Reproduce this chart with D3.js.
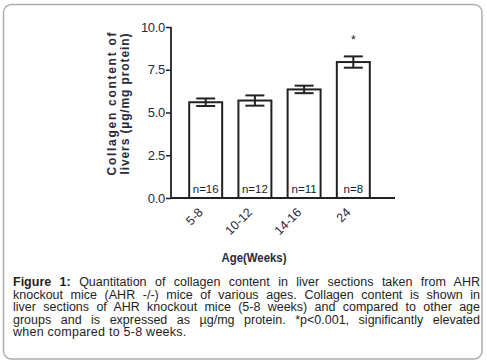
<!DOCTYPE html>
<html>
<head>
<meta charset="utf-8">
<script src="https://cdn.jsdelivr.net/npm/d3@7"></script>
<style>
  html, body { margin: 0; padding: 0; background: #fff; }
  #wrap { position: relative; width: 487px; height: 362px; overflow: hidden; }
  svg { position: absolute; left: 0; top: 0; }
  #caption {
    position: absolute; left: 13px; top: 276px; width: 467px;
    font-family: "Liberation Sans", Arial, sans-serif; font-size: 12.5px;
    line-height: 12.5px; color: #1e1e1e;
  }
  #caption .ln { text-align: justify; text-align-last: justify; white-space: nowrap; height: 12.5px; }
  #caption .ln.last { text-align-last: left; letter-spacing: 0.25px; }
</style>
</head>
<body>
<div id="wrap">
  <svg id="chart" width="487" height="362"></svg>
  <div id="caption"></div>
</div>
<script>
// ---- data ----
const categories = ["5-8", "10-12", "14-16", "24"];
const means = [5.6, 5.7, 6.35, 7.95];
const sems = [0.22, 0.3, 0.22, 0.33];
const nLabels = ["n=16", "n=12", "n=11", "n=8"];
const significance = ["", "", "", "*"];
const yTicks = [0, 2.5, 5, 7.5, 10];
const yTitleLines = ["Collagen content of", "livers (\u00b5g/mg protein)"];
const xTitle = "Age(Weeks)";
const captionLines = [
  [["Figure 1:", true], [" Quantitation of collagen content in liver sections taken from AHR", false]],
  [["knockout mice (AHR -/-) mice of various ages. Collagen content is shown in", false]],
  [["liver sections of AHR knockout mice (5-8 weeks) and compared to other age", false]],
  [["groups and is expressed as \u00b5g/mg protein. *p<0.001, significantly elevated", false]],
  [["when compared to 5-8 weeks.", false]]
];

// ---- layout ----
const axisX = 171, axisY = 198, axisTop = 27, axisRight = 395;
const ink = "#222";
const font = "'Liberation Sans', Arial, sans-serif";

const svg = d3.select("#chart");

// frame
svg.append("rect")
  .attr("x", 3.5).attr("y", 4.5).attr("width", 478.5).attr("height", 354.5)
  .attr("rx", 8).attr("fill", "none").attr("stroke", "#adadad").attr("stroke-width", 1.5);

const x = d3.scaleBand().domain(categories).range([axisX, 388])
  .paddingInner(0.33).paddingOuter(0.37);
const y = d3.scaleLinear().domain([0, 10]).range([axisY, axisTop]);

const data = categories.map((c, i) => ({ c, m: means[i], e: sems[i], n: nLabels[i], s: significance[i] }));

// bars
const g = svg.append("g");
g.selectAll("rect.bar").data(data).join("rect")
  .attr("class", "bar")
  .attr("x", d => x(d.c)).attr("y", d => y(d.m))
  .attr("width", x.bandwidth()).attr("height", d => y(0) - y(d.m))
  .attr("fill", "#fff").attr("stroke", ink).attr("stroke-width", 2);

// error bars
const capW = 19;
const eb = g.selectAll("g.eb").data(data).join("g").attr("class", "eb")
  .attr("stroke", ink).attr("stroke-width", 2);
eb.append("line")
  .attr("x1", d => x(d.c) + x.bandwidth() / 2).attr("x2", d => x(d.c) + x.bandwidth() / 2)
  .attr("y1", d => y(d.m - d.e)).attr("y2", d => y(d.m + d.e));
eb.append("line")
  .attr("x1", d => x(d.c) + x.bandwidth() / 2 - capW / 2).attr("x2", d => x(d.c) + x.bandwidth() / 2 + capW / 2)
  .attr("y1", d => y(d.m + d.e)).attr("y2", d => y(d.m + d.e));
eb.append("line")
  .attr("x1", d => x(d.c) + x.bandwidth() / 2 - capW / 2).attr("x2", d => x(d.c) + x.bandwidth() / 2 + capW / 2)
  .attr("y1", d => y(d.m - d.e)).attr("y2", d => y(d.m - d.e));

// n labels
g.selectAll("text.n").data(data).join("text")
  .attr("class", "n")
  .attr("x", d => x(d.c) + x.bandwidth() / 2).attr("y", y(0) - 5)
  .attr("text-anchor", "middle").attr("font-family", font).attr("font-size", 11.5)
  .attr("fill", ink).text(d => d.n);

// significance
g.selectAll("text.sig").data(data).join("text")
  .attr("class", "sig")
  .attr("x", d => x(d.c) + x.bandwidth() / 2).attr("y", d => y(d.m + d.e) - 12)
  .attr("text-anchor", "middle").attr("font-family", font).attr("font-size", 12)
  .attr("fill", ink).text(d => d.s);

// y axis
const yAxis = d3.axisLeft(y).tickValues(yTicks).tickFormat(d3.format(".1f"))
  .tickSize(5).tickPadding(1);
const yg = svg.append("g").attr("transform", `translate(${axisX},0)`).call(yAxis);
yg.select(".domain").remove();
yg.selectAll(".tick line").attr("stroke", ink).attr("stroke-width", 1.5);
yg.selectAll(".tick text").attr("font-family", font).attr("font-size", 13)
  .attr("fill", "#2a2a3a").attr("letter-spacing", -0.3);

// axis lines
svg.append("line").attr("x1", axisX).attr("x2", axisX).attr("y1", y(10)).attr("y2", y(0))
  .attr("stroke", ink).attr("stroke-width", 1.8);
svg.append("line").attr("x1", axisX).attr("x2", axisRight).attr("y1", y(0)).attr("y2", y(0))
  .attr("stroke", ink).attr("stroke-width", 1.8);

// x tick labels (rotated)
svg.selectAll("text.xt").data(categories).join("text")
  .attr("class", "xt")
  .attr("transform", d => `translate(${x(d) + x.bandwidth() / 2 - 5},${axisY + 12}) rotate(-45)`)
  .attr("text-anchor", "end").attr("dy", "0.35em")
  .attr("font-family", font).attr("font-size", 12.5).attr("fill", "#2a2a3a")
  .text(d => d);

// x title
svg.append("text").attr("x", 254).attr("y", 262)
  .attr("text-anchor", "middle").attr("font-family", font).attr("font-size", 12.5)
  .attr("font-weight", 600).attr("fill", "#2a2a3a").attr("textLength", 65)
  .attr("lengthAdjust", "spacingAndGlyphs")
  .text(xTitle);

// y title
const yTitleX = [115.5, 128.5];
const yTitleLen = [143, 141];
yTitleLines.forEach((t, i) => {
  svg.append("text")
    .attr("transform", `translate(${yTitleX[i]},104) rotate(-90)`)
    .attr("text-anchor", "middle").attr("font-family", font).attr("font-size", 12)
    .attr("font-weight", "bold").attr("fill", "#2a2a3a")
    .attr("textLength", yTitleLen[i]).attr("lengthAdjust", "spacing")
    .text(t);
});

// caption
const cap = d3.select("#caption");
captionLines.forEach((parts, i) => {
  const ln = cap.append("div").attr("class", "ln" + (i === captionLines.length - 1 ? " last" : ""));
  parts.forEach(([t, b]) => {
    ln.append("span").style("font-weight", b ? "bold" : "normal").text(t);
  });
});
</script>
</body>
</html>
